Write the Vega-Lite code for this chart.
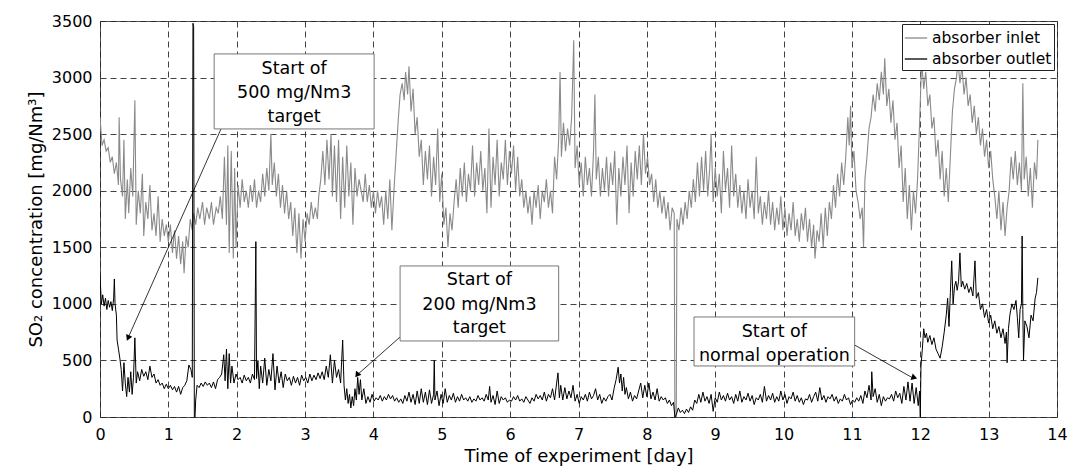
{
"$schema":"https://vega.github.io/schema/vega-lite/v6.json",
"width":957,"height":396,
"autosize":{"type":"none"},
"padding":{"left":100,"top":21,"right":14,"bottom":52},
"background":"white",
"config":{
 "view":{"stroke":"#555555","strokeWidth":1},
 "font":"DejaVu Sans",
 "axis":{"labelFont":"DejaVu Sans","labelFontSize":16,"labelColor":"#000","titleFont":"DejaVu Sans","titleFontSize":18,"titleFontWeight":"normal","titleColor":"#000","ticks":false,"domain":false,"grid":true,"gridColor":"#222222","gridDash":[6,4],"gridWidth":1,"gridOpacity":0.85,"labelFlush":false},
 "axisX":{"labelPadding":9,"titlePadding":5},
 "axisY":{"labelPadding":8,"titlePadding":6},
 "legend":{"orient":"top-right","offset":3,"strokeColor":"#222","fillColor":"white","padding":2,"symbolType":"stroke","symbolSize":500,"symbolStrokeWidth":1.3,"labelFont":"DejaVu Sans","labelFontSize":15.5,"labelColor":"#000","labelOffset":4,"rowPadding":0,"title":null}
},
"datasets":{
"inlet":[{"t":0,"v":2650},{"t":0.03,"v":2400},{"t":0.06,"v":2450},{"t":0.09,"v":2350},{"t":0.12,"v":2380},{"t":0.15,"v":2250},{"t":0.18,"v":2300},{"t":0.21,"v":2150},{"t":0.24,"v":2250},{"t":0.27,"v":2050},{"t":0.28,"v":2650},{"t":0.3,"v":2100},{"t":0.33,"v":1950},{"t":0.35,"v":2450},{"t":0.37,"v":1750},{"t":0.4,"v":2100},{"t":0.42,"v":1800},{"t":0.45,"v":2200},{"t":0.48,"v":1950},{"t":0.51,"v":2800},{"t":0.53,"v":1700},{"t":0.56,"v":2000},{"t":0.59,"v":1800},{"t":0.62,"v":2150},{"t":0.64,"v":1600},{"t":0.67,"v":1900},{"t":0.7,"v":1750},{"t":0.73,"v":2050},{"t":0.76,"v":1650},{"t":0.79,"v":1800},{"t":0.82,"v":1600},{"t":0.85,"v":1950},{"t":0.88,"v":1550},{"t":0.91,"v":1750},{"t":0.94,"v":1600},{"t":0.97,"v":1700},{"t":1.0,"v":1550},{"t":1.03,"v":1700},{"t":1.06,"v":1450},{"t":1.09,"v":1650},{"t":1.12,"v":1400},{"t":1.15,"v":1600},{"t":1.18,"v":1350},{"t":1.21,"v":1550},{"t":1.23,"v":1270},{"t":1.26,"v":1600},{"t":1.29,"v":1500},{"t":1.32,"v":1750},{"t":1.35,"v":1650},{"t":1.37,"v":1800},{"t":1.4,"v":1700},{"t":1.43,"v":1850},{"t":1.46,"v":1750},{"t":1.5,"v":1900},{"t":1.53,"v":1700},{"t":1.56,"v":1850},{"t":1.6,"v":1750},{"t":1.63,"v":1900},{"t":1.66,"v":1700},{"t":1.7,"v":1850},{"t":1.73,"v":1800},{"t":1.76,"v":1950},{"t":1.79,"v":1750},{"t":1.82,"v":2300},{"t":1.85,"v":1700},{"t":1.87,"v":2400},{"t":1.89,"v":1450},{"t":1.92,"v":2350},{"t":1.95,"v":1400},{"t":1.97,"v":2200},{"t":1.99,"v":1500},{"t":2.02,"v":2050},{"t":2.05,"v":1850},{"t":2.08,"v":2100},{"t":2.11,"v":1900},{"t":2.14,"v":2000},{"t":2.17,"v":1850},{"t":2.2,"v":2050},{"t":2.23,"v":1900},{"t":2.26,"v":2100},{"t":2.29,"v":1850},{"t":2.32,"v":2000},{"t":2.35,"v":1900},{"t":2.38,"v":2150},{"t":2.41,"v":1950},{"t":2.44,"v":2200},{"t":2.47,"v":2000},{"t":2.5,"v":2500},{"t":2.52,"v":2050},{"t":2.55,"v":2250},{"t":2.58,"v":1950},{"t":2.61,"v":2150},{"t":2.64,"v":1850},{"t":2.67,"v":2050},{"t":2.7,"v":1800},{"t":2.73,"v":2000},{"t":2.76,"v":1750},{"t":2.79,"v":1900},{"t":2.82,"v":1600},{"t":2.85,"v":1850},{"t":2.88,"v":1450},{"t":2.91,"v":1800},{"t":2.94,"v":1400},{"t":2.97,"v":1750},{"t":3.0,"v":1550},{"t":3.03,"v":1800},{"t":3.06,"v":1700},{"t":3.09,"v":1900},{"t":3.12,"v":1750},{"t":3.15,"v":1850},{"t":3.18,"v":1750},{"t":3.2,"v":1950},{"t":3.23,"v":2100},{"t":3.26,"v":2350},{"t":3.29,"v":2050},{"t":3.32,"v":2450},{"t":3.35,"v":2100},{"t":3.38,"v":2500},{"t":3.4,"v":1950},{"t":3.43,"v":2400},{"t":3.46,"v":1900},{"t":3.49,"v":2450},{"t":3.52,"v":1750},{"t":3.55,"v":2300},{"t":3.58,"v":1850},{"t":3.61,"v":2400},{"t":3.64,"v":1950},{"t":3.67,"v":2250},{"t":3.7,"v":1700},{"t":3.73,"v":2200},{"t":3.76,"v":1950},{"t":3.79,"v":2100},{"t":3.82,"v":2000},{"t":3.85,"v":1900},{"t":3.88,"v":2150},{"t":3.91,"v":1900},{"t":3.94,"v":2050},{"t":3.97,"v":1850},{"t":4.0,"v":2000},{"t":4.03,"v":1800},{"t":4.06,"v":2000},{"t":4.09,"v":1850},{"t":4.12,"v":1950},{"t":4.15,"v":1700},{"t":4.18,"v":2000},{"t":4.21,"v":1750},{"t":4.24,"v":2100},{"t":4.27,"v":1650},{"t":4.3,"v":2000},{"t":4.33,"v":2300},{"t":4.36,"v":2600},{"t":4.39,"v":2850},{"t":4.42,"v":2950},{"t":4.45,"v":2800},{"t":4.47,"v":3050},{"t":4.5,"v":2850},{"t":4.52,"v":3100},{"t":4.55,"v":2700},{"t":4.58,"v":2900},{"t":4.61,"v":2500},{"t":4.64,"v":2650},{"t":4.67,"v":2300},{"t":4.7,"v":2450},{"t":4.73,"v":2050},{"t":4.76,"v":2350},{"t":4.79,"v":2100},{"t":4.82,"v":2400},{"t":4.85,"v":1950},{"t":4.88,"v":2300},{"t":4.91,"v":2050},{"t":4.94,"v":2550},{"t":4.97,"v":1900},{"t":5.0,"v":2150},{"t":5.03,"v":1700},{"t":5.06,"v":1850},{"t":5.09,"v":1500},{"t":5.12,"v":1800},{"t":5.15,"v":1650},{"t":5.18,"v":1900},{"t":5.21,"v":2100},{"t":5.24,"v":1850},{"t":5.27,"v":2200},{"t":5.3,"v":1950},{"t":5.33,"v":2250},{"t":5.36,"v":1900},{"t":5.39,"v":2150},{"t":5.42,"v":2000},{"t":5.45,"v":2400},{"t":5.48,"v":1950},{"t":5.51,"v":2250},{"t":5.54,"v":2050},{"t":5.57,"v":2350},{"t":5.6,"v":2000},{"t":5.63,"v":2200},{"t":5.66,"v":1800},{"t":5.69,"v":2550},{"t":5.72,"v":1850},{"t":5.75,"v":2300},{"t":5.78,"v":2050},{"t":5.81,"v":2450},{"t":5.84,"v":1950},{"t":5.87,"v":2250},{"t":5.9,"v":2100},{"t":5.93,"v":2450},{"t":5.96,"v":2050},{"t":5.99,"v":2350},{"t":6.02,"v":2150},{"t":6.05,"v":2400},{"t":6.08,"v":2000},{"t":6.11,"v":2300},{"t":6.14,"v":1950},{"t":6.17,"v":2100},{"t":6.2,"v":1850},{"t":6.23,"v":2000},{"t":6.26,"v":1800},{"t":6.29,"v":1950},{"t":6.32,"v":1700},{"t":6.35,"v":2000},{"t":6.38,"v":1850},{"t":6.41,"v":2050},{"t":6.44,"v":1750},{"t":6.47,"v":2000},{"t":6.5,"v":1900},{"t":6.53,"v":2100},{"t":6.56,"v":1850},{"t":6.59,"v":2000},{"t":6.62,"v":1800},{"t":6.65,"v":2300},{"t":6.68,"v":2100},{"t":6.71,"v":2450},{"t":6.73,"v":3050},{"t":6.75,"v":2300},{"t":6.78,"v":2600},{"t":6.81,"v":2350},{"t":6.84,"v":2550},{"t":6.87,"v":2400},{"t":6.9,"v":2650},{"t":6.93,"v":3330},{"t":6.95,"v":2200},{"t":6.98,"v":2400},{"t":7.01,"v":2050},{"t":7.04,"v":2250},{"t":7.07,"v":1950},{"t":7.1,"v":2300},{"t":7.13,"v":2050},{"t":7.16,"v":2200},{"t":7.19,"v":1950},{"t":7.22,"v":2350},{"t":7.24,"v":2850},{"t":7.26,"v":2100},{"t":7.29,"v":2300},{"t":7.32,"v":1950},{"t":7.35,"v":2200},{"t":7.38,"v":2000},{"t":7.41,"v":2300},{"t":7.44,"v":1950},{"t":7.47,"v":2250},{"t":7.5,"v":2050},{"t":7.53,"v":2350},{"t":7.56,"v":1700},{"t":7.59,"v":2200},{"t":7.62,"v":1950},{"t":7.65,"v":2300},{"t":7.68,"v":2050},{"t":7.71,"v":2400},{"t":7.74,"v":1800},{"t":7.77,"v":2250},{"t":7.8,"v":1950},{"t":7.83,"v":2350},{"t":7.86,"v":2100},{"t":7.89,"v":2400},{"t":7.92,"v":2050},{"t":7.95,"v":2500},{"t":7.98,"v":2150},{"t":8.01,"v":2300},{"t":8.04,"v":2050},{"t":8.07,"v":2150},{"t":8.1,"v":1900},{"t":8.13,"v":2100},{"t":8.16,"v":1850},{"t":8.19,"v":2000},{"t":8.22,"v":1800},{"t":8.25,"v":1950},{"t":8.28,"v":1750},{"t":8.31,"v":1900},{"t":8.34,"v":1650},{"t":8.37,"v":1850},{"t":8.4,"v":1800},{"t":8.41,"v":0},{"t":8.43,"v":0},{"t":8.44,"v":1750},{"t":8.47,"v":1650},{"t":8.5,"v":1850},{"t":8.53,"v":1700},{"t":8.56,"v":1900},{"t":8.59,"v":1750},{"t":8.62,"v":2000},{"t":8.65,"v":1850},{"t":8.68,"v":2100},{"t":8.71,"v":1900},{"t":8.74,"v":2250},{"t":8.77,"v":1950},{"t":8.8,"v":2300},{"t":8.83,"v":2000},{"t":8.86,"v":2350},{"t":8.89,"v":1950},{"t":8.92,"v":2200},{"t":8.94,"v":2500},{"t":8.97,"v":1900},{"t":9.0,"v":2200},{"t":9.03,"v":1950},{"t":9.06,"v":2150},{"t":9.09,"v":1800},{"t":9.12,"v":2350},{"t":9.15,"v":2000},{"t":9.18,"v":2200},{"t":9.21,"v":1850},{"t":9.24,"v":2400},{"t":9.27,"v":1950},{"t":9.3,"v":2150},{"t":9.33,"v":1850},{"t":9.36,"v":2050},{"t":9.39,"v":1800},{"t":9.42,"v":2000},{"t":9.45,"v":1750},{"t":9.48,"v":2100},{"t":9.51,"v":1850},{"t":9.54,"v":2000},{"t":9.57,"v":1750},{"t":9.6,"v":2300},{"t":9.63,"v":1800},{"t":9.66,"v":1950},{"t":9.69,"v":1700},{"t":9.72,"v":1900},{"t":9.75,"v":1750},{"t":9.78,"v":2000},{"t":9.81,"v":1700},{"t":9.84,"v":1900},{"t":9.87,"v":1650},{"t":9.9,"v":1850},{"t":9.93,"v":1700},{"t":9.96,"v":1950},{"t":9.99,"v":1650},{"t":10.02,"v":1850},{"t":10.05,"v":1600},{"t":10.08,"v":1800},{"t":10.11,"v":1650},{"t":10.14,"v":1900},{"t":10.17,"v":1600},{"t":10.2,"v":1750},{"t":10.23,"v":1550},{"t":10.26,"v":1800},{"t":10.29,"v":1650},{"t":10.32,"v":1850},{"t":10.35,"v":1550},{"t":10.38,"v":1750},{"t":10.41,"v":1500},{"t":10.44,"v":1700},{"t":10.46,"v":1400},{"t":10.49,"v":1650},{"t":10.52,"v":1550},{"t":10.55,"v":1800},{"t":10.58,"v":1500},{"t":10.61,"v":1850},{"t":10.64,"v":1600},{"t":10.67,"v":1900},{"t":10.7,"v":1750},{"t":10.73,"v":2050},{"t":10.76,"v":1850},{"t":10.79,"v":2150},{"t":10.82,"v":1950},{"t":10.85,"v":2250},{"t":10.88,"v":2050},{"t":10.91,"v":2300},{"t":10.94,"v":2650},{"t":10.96,"v":2400},{"t":10.98,"v":2750},{"t":11.0,"v":2200},{"t":11.03,"v":2350},{"t":11.06,"v":2000},{"t":11.09,"v":1900},{"t":11.12,"v":1750},{"t":11.15,"v":1850},{"t":11.17,"v":1500},{"t":11.19,"v":2100},{"t":11.22,"v":2300},{"t":11.25,"v":2550},{"t":11.28,"v":2650},{"t":11.31,"v":2850},{"t":11.34,"v":2700},{"t":11.37,"v":2950},{"t":11.4,"v":2800},{"t":11.43,"v":3050},{"t":11.46,"v":2850},{"t":11.48,"v":3170},{"t":11.51,"v":2750},{"t":11.54,"v":2900},{"t":11.57,"v":2600},{"t":11.6,"v":2800},{"t":11.63,"v":2450},{"t":11.66,"v":2600},{"t":11.69,"v":2200},{"t":11.72,"v":2400},{"t":11.75,"v":1900},{"t":11.78,"v":2200},{"t":11.81,"v":1750},{"t":11.84,"v":2050},{"t":11.87,"v":1650},{"t":11.9,"v":2000},{"t":11.93,"v":1800},{"t":11.96,"v":2100},{"t":11.99,"v":2600},{"t":12.02,"v":3150},{"t":12.05,"v":2900},{"t":12.08,"v":3050},{"t":12.11,"v":2750},{"t":12.14,"v":2850},{"t":12.17,"v":2550},{"t":12.2,"v":2650},{"t":12.23,"v":2300},{"t":12.26,"v":2450},{"t":12.29,"v":2100},{"t":12.32,"v":2350},{"t":12.35,"v":1950},{"t":12.38,"v":2200},{"t":12.41,"v":1900},{"t":12.44,"v":2300},{"t":12.47,"v":2700},{"t":12.5,"v":2900},{"t":12.53,"v":3000},{"t":12.55,"v":3150},{"t":12.58,"v":2950},{"t":12.61,"v":3100},{"t":12.64,"v":2850},{"t":12.67,"v":3000},{"t":12.7,"v":2750},{"t":12.73,"v":2850},{"t":12.76,"v":2600},{"t":12.79,"v":2750},{"t":12.82,"v":2500},{"t":12.85,"v":2650},{"t":12.88,"v":2400},{"t":12.91,"v":2550},{"t":12.94,"v":2300},{"t":12.97,"v":2450},{"t":13.0,"v":2200},{"t":13.03,"v":2350},{"t":13.06,"v":2100},{"t":13.09,"v":1950},{"t":13.12,"v":1750},{"t":13.15,"v":2000},{"t":13.18,"v":1650},{"t":13.21,"v":1900},{"t":13.24,"v":1600},{"t":13.27,"v":1850},{"t":13.3,"v":2000},{"t":13.33,"v":2300},{"t":13.36,"v":2100},{"t":13.39,"v":2350},{"t":13.42,"v":2050},{"t":13.45,"v":2250},{"t":13.48,"v":2000},{"t":13.5,"v":2950},{"t":13.52,"v":2100},{"t":13.55,"v":2300},{"t":13.58,"v":1950},{"t":13.61,"v":2200},{"t":13.64,"v":1850},{"t":13.67,"v":2250},{"t":13.7,"v":2100},{"t":13.72,"v":2450}],
"outlet":[{"t":0,"v":1250},{"t":0.02,"v":1000},{"t":0.04,"v":1080},{"t":0.06,"v":980},{"t":0.08,"v":1050},{"t":0.1,"v":950},{"t":0.12,"v":1030},{"t":0.14,"v":970},{"t":0.16,"v":1020},{"t":0.18,"v":940},{"t":0.2,"v":1050},{"t":0.21,"v":1220},{"t":0.22,"v":1000},{"t":0.24,"v":900},{"t":0.25,"v":680},{"t":0.27,"v":600},{"t":0.29,"v":520},{"t":0.31,"v":420},{"t":0.33,"v":230},{"t":0.35,"v":480},{"t":0.37,"v":300},{"t":0.39,"v":180},{"t":0.41,"v":350},{"t":0.43,"v":220},{"t":0.45,"v":400},{"t":0.47,"v":200},{"t":0.49,"v":350},{"t":0.51,"v":700},{"t":0.53,"v":300},{"t":0.55,"v":400},{"t":0.58,"v":320},{"t":0.61,"v":420},{"t":0.64,"v":360},{"t":0.67,"v":400},{"t":0.7,"v":330},{"t":0.73,"v":450},{"t":0.76,"v":350},{"t":0.79,"v":380},{"t":0.82,"v":300},{"t":0.85,"v":330},{"t":0.88,"v":280},{"t":0.91,"v":300},{"t":0.94,"v":250},{"t":0.97,"v":290},{"t":1.0,"v":250},{"t":1.03,"v":280},{"t":1.06,"v":240},{"t":1.09,"v":270},{"t":1.12,"v":220},{"t":1.15,"v":270},{"t":1.18,"v":200},{"t":1.21,"v":260},{"t":1.24,"v":280},{"t":1.27,"v":320},{"t":1.3,"v":460},{"t":1.33,"v":420},{"t":1.35,"v":350},{"t":1.36,"v":3480},{"t":1.37,"v":3450},{"t":1.38,"v":0},{"t":1.39,"v":0},{"t":1.4,"v":150},{"t":1.42,"v":280},{"t":1.45,"v":260},{"t":1.48,"v":300},{"t":1.51,"v":270},{"t":1.54,"v":310},{"t":1.57,"v":280},{"t":1.6,"v":300},{"t":1.63,"v":260},{"t":1.66,"v":310},{"t":1.69,"v":250},{"t":1.72,"v":330},{"t":1.75,"v":350},{"t":1.78,"v":380},{"t":1.81,"v":550},{"t":1.83,"v":320},{"t":1.85,"v":600},{"t":1.87,"v":250},{"t":1.89,"v":560},{"t":1.91,"v":300},{"t":1.93,"v":450},{"t":1.96,"v":300},{"t":1.99,"v":380},{"t":2.02,"v":330},{"t":2.05,"v":350},{"t":2.08,"v":300},{"t":2.11,"v":370},{"t":2.14,"v":320},{"t":2.17,"v":350},{"t":2.2,"v":300},{"t":2.23,"v":380},{"t":2.26,"v":330},{"t":2.28,"v":1550},{"t":2.29,"v":340},{"t":2.31,"v":500},{"t":2.33,"v":250},{"t":2.35,"v":450},{"t":2.38,"v":300},{"t":2.41,"v":520},{"t":2.44,"v":280},{"t":2.47,"v":420},{"t":2.5,"v":320},{"t":2.53,"v":560},{"t":2.56,"v":240},{"t":2.59,"v":450},{"t":2.62,"v":300},{"t":2.65,"v":400},{"t":2.68,"v":260},{"t":2.71,"v":380},{"t":2.74,"v":320},{"t":2.77,"v":350},{"t":2.8,"v":280},{"t":2.83,"v":360},{"t":2.86,"v":300},{"t":2.89,"v":350},{"t":2.92,"v":280},{"t":2.95,"v":370},{"t":2.98,"v":320},{"t":3.01,"v":350},{"t":3.04,"v":300},{"t":3.07,"v":380},{"t":3.1,"v":320},{"t":3.13,"v":370},{"t":3.16,"v":330},{"t":3.19,"v":390},{"t":3.22,"v":340},{"t":3.25,"v":400},{"t":3.28,"v":330},{"t":3.31,"v":450},{"t":3.34,"v":350},{"t":3.37,"v":550},{"t":3.4,"v":300},{"t":3.43,"v":500},{"t":3.46,"v":350},{"t":3.49,"v":420},{"t":3.52,"v":300},{"t":3.55,"v":680},{"t":3.57,"v":280},{"t":3.59,"v":150},{"t":3.61,"v":250},{"t":3.63,"v":120},{"t":3.65,"v":200},{"t":3.67,"v":80},{"t":3.69,"v":180},{"t":3.71,"v":100},{"t":3.73,"v":250},{"t":3.75,"v":150},{"t":3.77,"v":350},{"t":3.79,"v":200},{"t":3.81,"v":330},{"t":3.83,"v":150},{"t":3.86,"v":250},{"t":3.89,"v":120},{"t":3.92,"v":180},{"t":3.95,"v":130},{"t":3.98,"v":200},{"t":4.01,"v":140},{"t":4.04,"v":170},{"t":4.07,"v":150},{"t":4.1,"v":190},{"t":4.13,"v":140},{"t":4.16,"v":180},{"t":4.19,"v":150},{"t":4.22,"v":200},{"t":4.25,"v":160},{"t":4.28,"v":190},{"t":4.31,"v":140},{"t":4.34,"v":170},{"t":4.37,"v":130},{"t":4.4,"v":160},{"t":4.43,"v":120},{"t":4.46,"v":190},{"t":4.49,"v":140},{"t":4.52,"v":220},{"t":4.55,"v":130},{"t":4.58,"v":200},{"t":4.61,"v":110},{"t":4.64,"v":230},{"t":4.67,"v":120},{"t":4.7,"v":250},{"t":4.73,"v":130},{"t":4.76,"v":220},{"t":4.79,"v":110},{"t":4.82,"v":240},{"t":4.85,"v":120},{"t":4.88,"v":200},{"t":4.89,"v":500},{"t":4.9,"v":150},{"t":4.93,"v":230},{"t":4.96,"v":100},{"t":4.99,"v":200},{"t":5.02,"v":120},{"t":5.05,"v":250},{"t":5.08,"v":130},{"t":5.11,"v":190},{"t":5.14,"v":150},{"t":5.17,"v":210},{"t":5.2,"v":130},{"t":5.23,"v":180},{"t":5.26,"v":140},{"t":5.29,"v":200},{"t":5.32,"v":150},{"t":5.35,"v":170},{"t":5.38,"v":140},{"t":5.41,"v":180},{"t":5.44,"v":130},{"t":5.47,"v":160},{"t":5.5,"v":140},{"t":5.53,"v":190},{"t":5.56,"v":150},{"t":5.59,"v":170},{"t":5.62,"v":140},{"t":5.65,"v":200},{"t":5.68,"v":150},{"t":5.7,"v":270},{"t":5.72,"v":130},{"t":5.75,"v":190},{"t":5.78,"v":110},{"t":5.81,"v":230},{"t":5.84,"v":120},{"t":5.87,"v":180},{"t":5.9,"v":150},{"t":5.93,"v":170},{"t":5.96,"v":130},{"t":5.99,"v":150},{"t":6.02,"v":140},{"t":6.05,"v":180},{"t":6.08,"v":150},{"t":6.11,"v":190},{"t":6.14,"v":140},{"t":6.17,"v":160},{"t":6.2,"v":130},{"t":6.23,"v":180},{"t":6.26,"v":150},{"t":6.29,"v":120},{"t":6.32,"v":170},{"t":6.35,"v":140},{"t":6.38,"v":200},{"t":6.41,"v":160},{"t":6.44,"v":190},{"t":6.47,"v":150},{"t":6.5,"v":220},{"t":6.53,"v":140},{"t":6.56,"v":200},{"t":6.59,"v":170},{"t":6.62,"v":250},{"t":6.65,"v":150},{"t":6.68,"v":300},{"t":6.7,"v":390},{"t":6.72,"v":170},{"t":6.74,"v":280},{"t":6.77,"v":150},{"t":6.8,"v":260},{"t":6.83,"v":160},{"t":6.86,"v":230},{"t":6.89,"v":170},{"t":6.92,"v":280},{"t":6.95,"v":140},{"t":6.98,"v":200},{"t":7.01,"v":120},{"t":7.04,"v":180},{"t":7.07,"v":150},{"t":7.1,"v":200},{"t":7.13,"v":140},{"t":7.16,"v":220},{"t":7.19,"v":160},{"t":7.22,"v":190},{"t":7.25,"v":250},{"t":7.28,"v":150},{"t":7.31,"v":200},{"t":7.34,"v":120},{"t":7.37,"v":170},{"t":7.4,"v":140},{"t":7.43,"v":180},{"t":7.46,"v":200},{"t":7.49,"v":150},{"t":7.52,"v":250},{"t":7.55,"v":330},{"t":7.58,"v":440},{"t":7.6,"v":300},{"t":7.62,"v":380},{"t":7.64,"v":230},{"t":7.66,"v":350},{"t":7.68,"v":200},{"t":7.7,"v":260},{"t":7.73,"v":160},{"t":7.76,"v":220},{"t":7.79,"v":140},{"t":7.82,"v":190},{"t":7.85,"v":160},{"t":7.88,"v":230},{"t":7.91,"v":300},{"t":7.94,"v":170},{"t":7.97,"v":280},{"t":8.0,"v":180},{"t":8.03,"v":300},{"t":8.06,"v":160},{"t":8.09,"v":220},{"t":8.12,"v":150},{"t":8.15,"v":250},{"t":8.18,"v":140},{"t":8.21,"v":180},{"t":8.24,"v":150},{"t":8.27,"v":170},{"t":8.3,"v":120},{"t":8.33,"v":150},{"t":8.36,"v":100},{"t":8.39,"v":130},{"t":8.41,"v":0},{"t":8.43,"v":20},{"t":8.46,"v":80},{"t":8.49,"v":40},{"t":8.52,"v":60},{"t":8.55,"v":30},{"t":8.58,"v":70},{"t":8.61,"v":40},{"t":8.64,"v":90},{"t":8.67,"v":60},{"t":8.7,"v":150},{"t":8.73,"v":120},{"t":8.76,"v":200},{"t":8.79,"v":130},{"t":8.82,"v":220},{"t":8.85,"v":140},{"t":8.88,"v":180},{"t":8.91,"v":120},{"t":8.94,"v":200},{"t":8.97,"v":50},{"t":9.0,"v":170},{"t":9.03,"v":130},{"t":9.06,"v":220},{"t":9.09,"v":150},{"t":9.12,"v":190},{"t":9.15,"v":140},{"t":9.18,"v":210},{"t":9.21,"v":150},{"t":9.24,"v":180},{"t":9.27,"v":120},{"t":9.3,"v":200},{"t":9.33,"v":140},{"t":9.36,"v":230},{"t":9.39,"v":130},{"t":9.42,"v":180},{"t":9.45,"v":150},{"t":9.48,"v":210},{"t":9.51,"v":140},{"t":9.54,"v":190},{"t":9.57,"v":110},{"t":9.6,"v":170},{"t":9.63,"v":150},{"t":9.66,"v":200},{"t":9.69,"v":130},{"t":9.72,"v":270},{"t":9.75,"v":140},{"t":9.78,"v":190},{"t":9.81,"v":150},{"t":9.84,"v":210},{"t":9.87,"v":130},{"t":9.9,"v":180},{"t":9.93,"v":140},{"t":9.96,"v":230},{"t":9.99,"v":150},{"t":10.02,"v":200},{"t":10.05,"v":120},{"t":10.08,"v":180},{"t":10.11,"v":160},{"t":10.14,"v":220},{"t":10.17,"v":140},{"t":10.2,"v":190},{"t":10.23,"v":130},{"t":10.26,"v":170},{"t":10.29,"v":110},{"t":10.32,"v":160},{"t":10.35,"v":150},{"t":10.38,"v":200},{"t":10.41,"v":130},{"t":10.44,"v":180},{"t":10.47,"v":220},{"t":10.5,"v":140},{"t":10.53,"v":260},{"t":10.56,"v":150},{"t":10.59,"v":190},{"t":10.62,"v":130},{"t":10.65,"v":180},{"t":10.68,"v":160},{"t":10.71,"v":200},{"t":10.74,"v":140},{"t":10.77,"v":180},{"t":10.8,"v":120},{"t":10.83,"v":160},{"t":10.86,"v":140},{"t":10.89,"v":200},{"t":10.92,"v":150},{"t":10.95,"v":170},{"t":10.98,"v":110},{"t":11.01,"v":150},{"t":11.04,"v":130},{"t":11.07,"v":170},{"t":11.1,"v":140},{"t":11.13,"v":190},{"t":11.16,"v":120},{"t":11.19,"v":230},{"t":11.22,"v":170},{"t":11.25,"v":280},{"t":11.28,"v":150},{"t":11.29,"v":400},{"t":11.31,"v":180},{"t":11.34,"v":250},{"t":11.37,"v":130},{"t":11.4,"v":200},{"t":11.43,"v":100},{"t":11.46,"v":180},{"t":11.49,"v":140},{"t":11.52,"v":170},{"t":11.55,"v":160},{"t":11.58,"v":200},{"t":11.61,"v":140},{"t":11.64,"v":230},{"t":11.67,"v":170},{"t":11.7,"v":210},{"t":11.73,"v":120},{"t":11.76,"v":270},{"t":11.79,"v":150},{"t":11.82,"v":310},{"t":11.85,"v":140},{"t":11.88,"v":300},{"t":11.91,"v":120},{"t":11.94,"v":260},{"t":11.97,"v":100},{"t":11.99,"v":230},{"t":12.0,"v":0},{"t":12.01,"v":450},{"t":12.03,"v":600},{"t":12.05,"v":780},{"t":12.07,"v":700},{"t":12.09,"v":740},{"t":12.11,"v":660},{"t":12.14,"v":720},{"t":12.17,"v":640},{"t":12.2,"v":700},{"t":12.23,"v":600},{"t":12.26,"v":560},{"t":12.29,"v":520},{"t":12.32,"v":620},{"t":12.35,"v":750},{"t":12.38,"v":900},{"t":12.4,"v":1050},{"t":12.42,"v":800},{"t":12.44,"v":1100},{"t":12.46,"v":1380},{"t":12.48,"v":1000},{"t":12.5,"v":1150},{"t":12.52,"v":1200},{"t":12.54,"v":1120},{"t":12.56,"v":1200},{"t":12.58,"v":1450},{"t":12.6,"v":1150},{"t":12.62,"v":1200},{"t":12.65,"v":1130},{"t":12.68,"v":1180},{"t":12.71,"v":1100},{"t":12.74,"v":1150},{"t":12.77,"v":1070},{"t":12.8,"v":1380},{"t":12.82,"v":1050},{"t":12.85,"v":1100},{"t":12.88,"v":950},{"t":12.91,"v":1000},{"t":12.94,"v":880},{"t":12.97,"v":950},{"t":13.0,"v":830},{"t":13.03,"v":900},{"t":13.06,"v":780},{"t":13.09,"v":850},{"t":13.12,"v":740},{"t":13.15,"v":800},{"t":13.18,"v":700},{"t":13.21,"v":780},{"t":13.24,"v":650},{"t":13.26,"v":750},{"t":13.27,"v":480},{"t":13.29,"v":780},{"t":13.31,"v":900},{"t":13.34,"v":1000},{"t":13.37,"v":950},{"t":13.4,"v":1030},{"t":13.42,"v":880},{"t":13.44,"v":700},{"t":13.46,"v":950},{"t":13.48,"v":1000},{"t":13.49,"v":1600},{"t":13.5,"v":950},{"t":13.51,"v":500},{"t":13.53,"v":850},{"t":13.56,"v":800},{"t":13.59,"v":700},{"t":13.62,"v":900},{"t":13.65,"v":850},{"t":13.68,"v":1050},{"t":13.7,"v":1100},{"t":13.72,"v":1230}],
"notes":[{"id":"a1","bx":1.67,"bx2":4.01,"by":3209,"by2":2546,"ax":1.77,"ay":2546,"hx":0.41,"hy":698},{"id":"a2","bx":4.39,"bx2":6.71,"by":1335,"by2":672,"ax":4.39,"ay":707,"hx":3.76,"hy":371},{"id":"a3","bx":8.69,"bx2":11.04,"by":884,"by2":451,"ax":11.04,"ay":636,"hx":11.89,"hy":345}],
"lines":[{"txt":"Start of","tx":2.84,"ty":3076},{"txt":"500 mg/Nm3","tx":2.84,"ty":2864},{"txt":"target","tx":2.84,"ty":2652},{"txt":"Start of","tx":5.55,"ty":1211},{"txt":"200 mg/Nm3","tx":5.55,"ty":990},{"txt":"target","tx":5.55,"ty":787},{"txt":"Start of","tx":9.865,"ty":751},{"txt":"normal operation","tx":9.865,"ty":539}]
},
"layer":[
 {"data":{"name":"inlet"},"mark":{"type":"line","strokeWidth":1.1,"clip":true},
  "encoding":{
   "x":{"field":"t","type":"quantitative","scale":{"domain":[0,14],"nice":false,"zero":false},"title":"Time of experiment [day]","axis":{"values":[0,1,2,3,4,5,6,7,8,9,10,11,12,13,14],"format":"d"}},
   "y":{"field":"v","type":"quantitative","scale":{"domain":[0,3500],"nice":false},"title":"SO₂ concentration [mg/Nm³]","axis":{"values":[0,500,1000,1500,2000,2500,3000,3500],"format":"d"}},
   "color":{"datum":"absorber inlet","type":"nominal","scale":{"domain":["absorber inlet","absorber outlet"],"range":["#8a8a8a","#000000"]}}
  }},
 {"data":{"name":"outlet"},"mark":{"type":"line","strokeWidth":1,"clip":true},
  "encoding":{
   "x":{"field":"t","type":"quantitative","title":"Time of experiment [day]","axis":{"values":[0,1,2,3,4,5,6,7,8,9,10,11,12,13,14],"format":"d"}},
   "y":{"field":"v","type":"quantitative","title":"SO₂ concentration [mg/Nm³]","axis":{"values":[0,500,1000,1500,2000,2500,3000,3500],"format":"d"}},
   "color":{"datum":"absorber outlet","type":"nominal"}
  }},
 {"data":{"name":"notes"},"mark":{"type":"rule","color":"#000","strokeWidth":0.8},
  "encoding":{
   "x":{"field":"ax","type":"quantitative","title":"Time of experiment [day]","axis":{"values":[0,1,2,3,4,5,6,7,8,9,10,11,12,13,14],"format":"d"}},
   "y":{"field":"ay","type":"quantitative","title":"SO₂ concentration [mg/Nm³]","axis":{"values":[0,500,1000,1500,2000,2500,3000,3500],"format":"d"}},
   "x2":{"field":"hx"},"y2":{"field":"hy"}
  }},
 {"data":{"name":"notes"},"mark":{"type":"point","shape":"triangle-up","filled":true,"color":"#000","size":45,"opacity":1},
  "encoding":{
   "x":{"field":"hx","type":"quantitative","title":"Time of experiment [day]","axis":{"values":[0,1,2,3,4,5,6,7,8,9,10,11,12,13,14],"format":"d"}},
   "y":{"field":"hy","type":"quantitative","title":"SO₂ concentration [mg/Nm³]","axis":{"values":[0,500,1000,1500,2000,2500,3000,3500],"format":"d"}},
   "angle":{"field":"id","type":"ordinal","scale":{"domain":["a1","a2","a3"],"range":[204,228.5,119.6]},"legend":null}
  }},
 {"data":{"name":"notes"},"mark":{"type":"rect","fill":"white","stroke":"#777777","strokeWidth":1},
  "encoding":{
   "x":{"field":"bx","type":"quantitative","title":"Time of experiment [day]","axis":{"values":[0,1,2,3,4,5,6,7,8,9,10,11,12,13,14],"format":"d"}},
   "x2":{"field":"bx2"},
   "y":{"field":"by","type":"quantitative","title":"SO₂ concentration [mg/Nm³]","axis":{"values":[0,500,1000,1500,2000,2500,3000,3500],"format":"d"}},
   "y2":{"field":"by2"}
  }},
 {"data":{"name":"lines"},"mark":{"type":"text","font":"DejaVu Sans","fontSize":17.5,"align":"center","baseline":"middle","color":"#000"},
  "encoding":{
   "x":{"field":"tx","type":"quantitative","title":"Time of experiment [day]","axis":{"values":[0,1,2,3,4,5,6,7,8,9,10,11,12,13,14],"format":"d"}},
   "y":{"field":"ty","type":"quantitative","title":"SO₂ concentration [mg/Nm³]","axis":{"values":[0,500,1000,1500,2000,2500,3000,3500],"format":"d"}},
   "text":{"field":"txt"}
  }}
]
}
